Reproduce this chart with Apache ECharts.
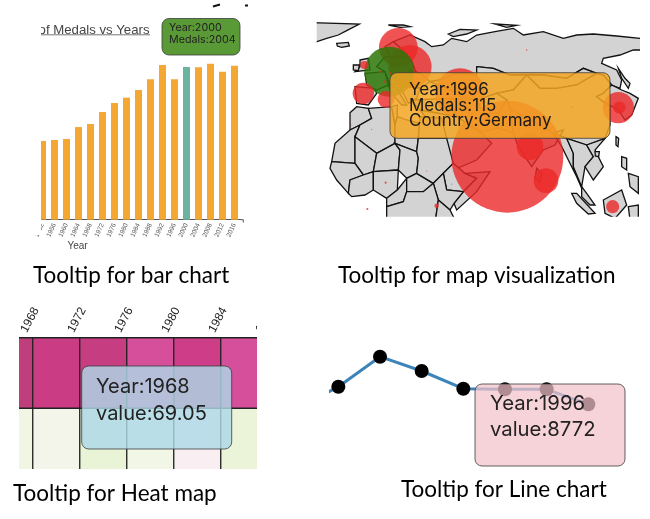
<!DOCTYPE html>
<html><head><meta charset="utf-8">
<style>html,body{margin:0;padding:0;background:#fff}#c{width:650px;height:519px}</style>
<script src="https://cdn.jsdelivr.net/npm/echarts@6/dist/echarts.min.js"></script>
</head><body><div id="c"></div>
<script>
// ---- bar panel
const barYears = ['1952','1956','1960','1964','1968','1972','1976','1980','1984','1988','1992','1996','2000','2004','2008','2012','2016'];
const barMedals = [1033,1046,1059,1216,1256,1413,1532,1602,1702,1842,2030,1842,2004,2000,2048,1943,2022];
const barHighlight = '2000';
// ---- heat map panel
const heatColumns = ['1964','1968','1972','1976','1980','1984'];
const heatLabels = ['1964','1968','1972','1976','1980','1984','1988'];
const heatRows = ['lower','upper'];
const heatUpper = [0,8,6,20,11,20];
const heatLower = [62,58,70,61,50,68];
// ---- line panel
const lineYears = ['1972','1976','1980','1984','1988','1992','1996','2000'];
const lineValues = [8115,8859,9859,9382,8792,8772,8772,8272];
// ---- map panel: bubbles, in map units
const bubbleX = [592,300,450,265,238,925,660,708,160,228,163,908,928,380,785,265,650,227,172,350,425,185,123,210,240,225];
const bubbleY = [440,170,250,112,185,293,410,512,250,268,165,590,293,587,292,228,120,518,597,483,522,358,345,185,190,215];
const bubbleMedals = [577,86,115,69,115,45,33,28,21,13,3,8,7,0.9,0.2,0.2,0.1,0.2,0.2,0.05,0.05,0.05,0.05,0.2,0.2,0.2];
const bubbleCountry = ['India','Sweden','Ukraine','Russia','Germany','South Korea','Nepal','Sri Lanka','Spain','Italy','Britain','Malaysia','South Korea','Uganda','Hong Kong','Greece','Siberia','Cameroon','Gabon','Sudan','Kenya','Algeria','Morocco','Netherlands','Denmark','Switzerland'];
const bubbleHighlight = 4;
// ---- map panel: land outlines, in map units
const land = {
 Greenland:[[5,38],[148,42],[110,62],[85,75],[50,85],[5,100]],
 Iceland:[[80,100],[115,97],[118,108],[95,112],[82,108]],
 Svalbard:[[235,45],[280,45],[300,50],[270,52]],
 Zemlya:[[415,72],[450,58],[500,60],[470,72],[430,80]],
 Severnaya:[[555,42],[620,46],[590,52]],
 Russia:[[250,95],[300,75],[345,95],[365,110],[400,105],[425,85],[470,95],[500,75],[555,65],[610,55],[640,75],[700,65],[760,85],[800,75],[850,72],[920,78],[990,85],[1010,85],[1010,120],[970,120],[930,135],[880,145],[875,160],[920,180],[935,210],[930,235],[905,225],[880,195],[860,190],[820,175],[770,205],[700,195],[650,195],[600,195],[550,175],[500,170],[500,195],[440,190],[390,210],[360,215],[330,190],[300,180],[290,130]],
 Scandinavia:[[250,95],[290,130],[300,180],[250,160],[225,110]],
 Kazakhstan:[[360,215],[390,210],[440,190],[500,195],[500,170],[550,175],[600,195],[650,195],[610,240],[560,250],[500,270],[450,260],[420,240]],
 Mongolia:[[650,195],[700,195],[770,205],[820,175],[860,190],[800,225],[740,235],[690,235]],
 China:[[610,240],[650,195],[690,235],[740,235],[800,225],[860,190],[880,195],[905,225],[880,250],[860,260],[880,275],[900,290],[900,345],[885,385],[830,405],[770,385],[730,370],[690,345],[640,320],[600,295],[590,270],[560,250]],
 Korea:[[880,250],[905,225],[935,240],[960,250],[985,265],[965,315],[945,330],[925,300],[880,275],[860,260]],
 Sakhalin:[[925,175],[945,205],[960,220],[955,235],[935,205]],
 Afghanistan:[[500,270],[560,250],[590,270],[565,310],[520,310]],
 Pakistan:[[565,310],[590,270],[600,295],[640,320],[610,370],[565,355]],
 Iran:[[420,265],[500,270],[520,310],[565,355],[510,365],[470,340],[440,320]],
 Turkey:[[300,270],[420,265],[440,320],[330,300]],
 Arabia:[[330,300],[440,320],[470,340],[510,365],[545,400],[500,450],[430,480],[395,385]],
 Iberia:[[135,230],[195,235],[200,250],[175,285],[140,280]],
 France:[[165,190],[225,185],[235,225],[200,240],[170,225]],
 Central:[[225,140],[300,140],[320,190],[300,215],[240,225],[225,185],[200,170]],
 Ukraine:[[300,180],[330,190],[360,215],[330,235],[300,215]],
 Italy:[[235,225],[260,235],[290,285],[275,285],[245,250]],
 Balkans:[[265,225],[330,235],[320,265],[295,280],[275,240]],
 Britain:[[150,150],[175,145],[180,180],[135,185],[150,170]],
 Ireland:[[130,165],[148,165],[145,182],[130,180]],
 Morocco:[[120,308],[140,290],[175,295],[185,325],[150,345],[120,360]],
 Mauritania:[[120,360],[150,345],[135,380],[135,460],[65,455],[75,400]],
 Algeria:[[175,295],[245,290],[255,345],[255,400],[200,430],[135,380],[150,345],[185,325]],
 Tunisia:[[245,290],[262,285],[262,320],[255,345]],
 Libya:[[255,345],[262,320],[290,330],[330,340],[320,425],[255,400]],
 Egypt:[[330,320],[395,325],[410,385],[325,385]],
 Mali:[[135,380],[200,430],[190,485],[160,495],[135,460]],
 Senegal:[[65,455],[135,460],[160,495],[120,510],[115,550],[80,510],[60,475]],
 Ghana:[[120,510],[160,495],[190,485],[190,540],[165,555],[125,560],[115,550]],
 Niger:[[200,430],[255,400],[270,420],[265,480],[190,485]],
 Nigeria:[[190,485],[265,480],[262,540],[230,565],[190,540]],
 Chad:[[255,400],[320,425],[325,445],[320,490],[290,505],[265,480],[270,420]],
 Cameroon:[[262,540],[290,505],[290,545],[280,575],[230,590],[230,565]],
 CAR:[[290,505],[320,490],[370,520],[340,545],[290,545]],
 Sudan:[[325,385],[410,385],[430,460],[400,490],[370,520],[320,490],[325,445],[320,425]],
 Ethiopia:[[400,490],[430,460],[465,490],[500,505],[460,545],[410,540]],
 Somalia:[[465,490],[540,485],[500,545],[440,600],[432,580],[460,545],[500,505]],
 Kenya:[[370,520],[400,490],[410,540],[460,545],[432,580],[420,600],[385,570]],
 Congo:[[230,590],[280,575],[290,545],[340,545],[370,520],[385,570],[375,640],[230,640]],
 Tanzania:[[385,570],[420,600],[440,640],[375,640]],
 India:[[600,295],[640,320],[690,345],[730,370],[760,360],[735,405],[700,420],[665,470],[625,410],[610,370]],
 Myanmar:[[730,370],[770,385],[790,430],[790,470],[815,535],[800,500],[775,450],[755,410]],
 Thailand:[[770,385],[830,405],[850,440],[825,470],[815,530],[790,470],[790,430]],
 Vietnam:[[830,405],[885,385],[855,420],[880,470],[850,510],[825,470],[850,440]],
 Malaya:[[815,530],[830,550],[855,585],[840,585],[815,560]],
 Sumatra:[[785,550],[800,550],[855,610],[835,612],[800,580]],
 Borneo:[[880,570],[935,540],[950,585],[915,625],[885,610]],
 SriLanka:[[680,475],[695,490],[690,515],[675,505]],
 Hainan:[[855,425],[868,425],[866,440],[856,438]],
 Luzon:[[935,440],[950,445],[950,480],[935,470]],
 Mindanao:[[955,490],[985,500],[985,550],[960,530]],
 Taiwan:[[918,380],[926,385],[924,410],[918,405]],
 Sulawesi:[[955,590],[985,585],[985,630],[960,630]]
};
// ---- text
const barTip = ['Year:2000','Medals:2004'];
const mapTip = ['Year:1996','Medals:115','Country:Germany'];
const heatTip = ['Year:1968','value:69.05'];
const lineTip = ['Year:1996','value:8772'];
const captions = ['Tooltip for bar chart','Tooltip for map visualization','Tooltip for Heat map','Tooltip for Line chart'];

const TIPFONT = 'Inter, "Liberation Sans", sans-serif';
const CAPFONT = 'Lato, "Open Sans", sans-serif';
const geojson = {type:'FeatureCollection',features:Object.keys(land).map(n=>({
  type:'Feature',properties:{name:n},geometry:{type:'Polygon',coordinates:[land[n].concat([land[n][0]])]}}))};
echarts.registerMap('panel', geojson);

function cover(x,y,w,h){return {type:'rect',z:50,silent:true,shape:{x,y,width:w,height:h},style:{fill:'#fff'}};}
function tipBox(x,y,w,h,fill,stroke){return {type:'rect',z:60,silent:true,shape:{x,y,width:w,height:h,r:7},style:{fill,stroke:stroke||'rgba(60,60,60,0.8)',lineWidth:1}};}
function txt(s,x,y,font,fill,align,z){return {type:'text',z:z||61,silent:true,style:{text:s,x,y,font,fill:fill||'#222',textAlign:align||'left',textVerticalAlign:'middle'}};}
function rule(x1,y1,x2,y2,stroke,w){return {type:'line',z:61,silent:true,shape:{x1,y1,x2,y2},style:{stroke,lineWidth:w}};}

const graphics = [
  // bar panel title sits under the crop
  txt('of Medals vs Years',149.5,30,'13.2px "Liberation Sans", sans-serif','#444','right',40),
  // panel crops
  cover(0,0,41,235),
  cover(300,0,350,21.7), cover(300,0,16.7,235), cover(640,0,10,235), cover(300,216.7,350,25),
  cover(0,300,19,180), cover(257,300,72,180), cover(0,469,329,20),
  // bar panel furniture
  rule(41,34.8,150,34.8,'#777',1),
  rule(213,6.5,220,4.5,'#111',2), rule(245,5.5,248,5.5,'#111',2),
  rule(240.5,219.7,243.3,219.7,'#555',1), rule(243.3,219.7,243.3,222.5,'#555',1),
  txt('Year',77.5,246,'10px "Liberation Sans", sans-serif','#444','center'),
  tipBox(162,18.5,78,36.5,'#5A9A36'),
  txt(barTip[0],169,28,'10.7px '+TIPFONT), txt(barTip[1],169,40,'10.7px '+TIPFONT),
  // map tip
  tipBox(390,72.7,220,65.6,'rgba(243,166,35,0.85)'),
  txt(mapTip[0],409,90,'17px '+TIPFONT,'#1a1a1a'), txt(mapTip[1],409,105.7,'17px '+TIPFONT,'#1a1a1a'), txt(mapTip[2],409,121,'17px '+TIPFONT,'#1a1a1a'),
  // heat tip
  tipBox(81.7,366,150,83,'rgba(173,216,230,0.82)'),
  txt(heatTip[0],96,386.5,'20px '+TIPFONT,'#222'), txt(heatTip[1],96,413.5,'20px '+TIPFONT,'#222'),
  // line tip
  tipBox(475,384,150,82,'rgba(243,194,201,0.72)'),
  txt(lineTip[0],490,404,'20.3px '+TIPFONT,'#222'), txt(lineTip[1],490,430,'20.3px '+TIPFONT,'#222'),
  // captions
  txt(captions[0],33,276,'22.5px '+CAPFONT,'#000'),
  txt(captions[1],338,276,'22.5px '+CAPFONT,'#000'),
  txt(captions[2],13,494,'22.5px '+CAPFONT,'#000'),
  txt(captions[3],401,490,'22.5px '+CAPFONT,'#000')
];

const chart = echarts.init(document.getElementById('c'));
chart.setOption({
  animation:false,
  backgroundColor:'#fff',
  grid:[
    {left:36.5,top:59.7,width:204,height:160,outerBoundsMode:'none'},
    {left:-14,top:338,width:282,height:140,outerBoundsMode:'none'},
    {left:-17,top:338,width:282,height:1,outerBoundsMode:'none'},
    {left:296.7,top:337.46,width:291.6,height:135,outerBoundsMode:'none'}
  ],
  xAxis:[
    {gridIndex:0,type:'category',data:barYears,
      axisLine:{lineStyle:{color:'#555',width:1}},
      axisTick:{alignWithLabel:true,length:3,lineStyle:{color:'#555'}},
      axisLabel:{rotate:65,fontSize:6.5,color:'#555',margin:4,interval:0,fontFamily:'"Liberation Sans"'}},
    {gridIndex:1,type:'category',position:'top',data:heatColumns,
      axisLine:{show:false},axisTick:{show:false},axisLabel:{show:false}},
    {gridIndex:2,type:'category',position:'top',boundaryGap:false,data:heatLabels,
      axisLine:{show:false},axisTick:{show:false},
      axisLabel:{rotate:62,align:'center',verticalAlign:'middle',margin:18,interval:0,fontSize:12,color:'#222',fontFamily:'"Liberation Sans"'}},
    {gridIndex:3,type:'category',boundaryGap:false,data:lineYears,show:false}
  ],
  yAxis:[
    {gridIndex:0,type:'value',min:0,max:2100,show:false},
    {gridIndex:1,type:'category',data:heatRows,show:false},
    {gridIndex:2,type:'value',show:false},
    {gridIndex:3,type:'value',min:6000,max:10500,show:false}
  ],
  geo:{map:'panel',left:310,top:10,width:340,height:220,
    projection:{project:p=>p,unproject:p=>p},
    boundingCoords:[[0,0],[1020,660]],
    aspectScale:1,roam:false,silent:true,z:0,
    label:{show:false},
    itemStyle:{areaColor:'#D3D3D3',borderColor:'#111',borderWidth:1.3},
    emphasis:{disabled:true},select:{disabled:true}},
  visualMap:{show:false,type:'continuous',seriesIndex:1,min:0,max:70,dimension:2,
    inRange:{color:['#BE3F7C','#CD3C86','#D64F9A','#E58FBE','#F1C5DC','#F9EFF3','#F2F6E8','#E9F3D5']}},
  series:[
    {type:'bar',xAxisIndex:0,yAxisIndex:0,barWidth:7,
      data:barYears.map((y,i)=>({value:barMedals[i],itemStyle:{color:y===barHighlight?'#6BB5A0':'#F5A733'}}))},
    {type:'heatmap',xAxisIndex:1,yAxisIndex:1,
      data:heatColumns.flatMap((c,i)=>[[i,0,heatLower[i]],[i,1,heatUpper[i]]]),
      itemStyle:{borderColor:'#222',borderWidth:1.3},emphasis:{disabled:true}},
    {type:'line',xAxisIndex:3,yAxisIndex:3,data:lineValues,symbol:'circle',symbolSize:14,
      lineStyle:{color:'#3D85B8',width:3},itemStyle:{color:'#000'}},
    {type:'scatter',coordinateSystem:'geo',silent:true,
      data:bubbleX.map((x,i)=>({name:bubbleCountry[i],value:[x,bubbleY[i],bubbleMedals[i]],
        itemStyle:{opacity:1,color:i===bubbleHighlight?'rgba(44,118,8,0.85)':'rgba(236,40,40,0.8)'}})),
      symbolSize:v=>4.66*Math.sqrt(v[2])}
  ],
  graphic:{elements:graphics}
});
</script></body></html>
